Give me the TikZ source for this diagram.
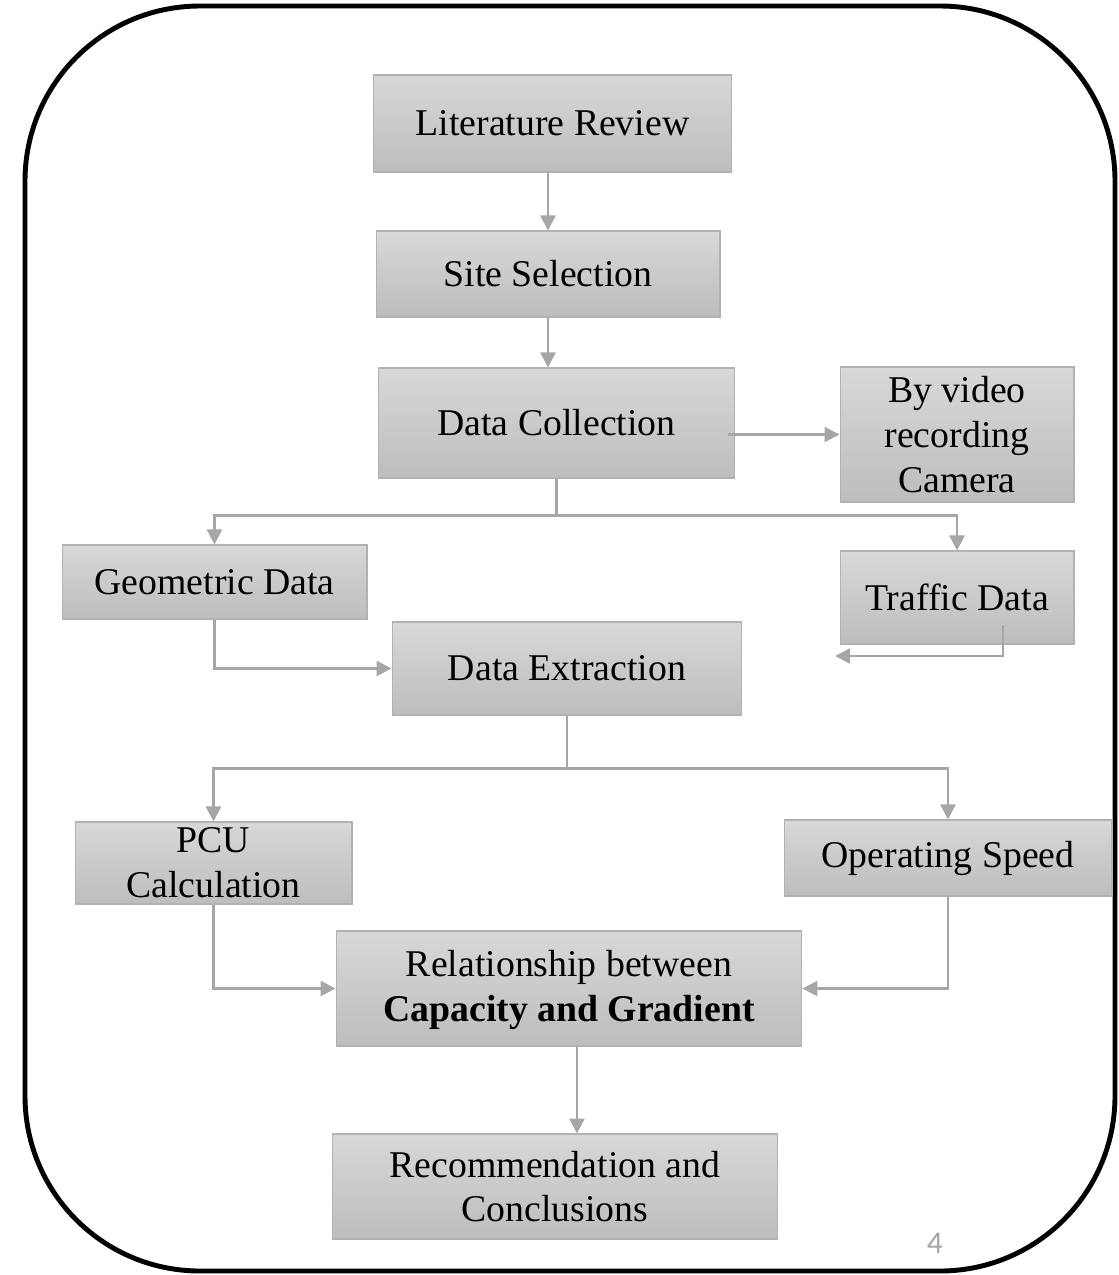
\documentclass[tikz,border=0pt]{standalone}
\usepackage{fontspec}
\setmainfont{Liberation Serif}
\newfontfamily\pagefont{Carlito}
\usetikzlibrary{arrows.meta}

\definecolor{linegray}{HTML}{A6A6A6}
\definecolor{boxtop}{HTML}{D8D8D8}
\definecolor{boxbottom}{HTML}{BDBDBD}
\definecolor{boxedge}{HTML}{B2B2B2}

\tikzstyle{arrow} = [line width=1.4pt,color=linegray,-{Triangle[length=0.3cm,width=0.3cm]}]
\tikzstyle{stepbox} = [
        rectangle,
        draw=boxedge,
        line width=0.6pt,
        top color=boxtop,
        bottom color=boxbottom,
        inner sep=0pt,
        align=center,
        font=\fontsize{21.5}{25.5}\selectfont,
        % text centered,
    ]

\begin{document}
\begin{tikzpicture}[x=0.02cm,y=-0.02cm]
            \useasboundingbox (0,0) rectangle (1119,1275);
            \draw [line width=2.8pt, rounded corners=3.5cm] (25,6) rectangle (1115,1271);
            \node [stepbox, minimum width=7.18cm, minimum height=1.94cm] (litreview) at (552.5,123.5) {Literature Review};
            \node [stepbox, minimum width=6.88cm, minimum height=1.72cm] (site) at (548,274) {Site Selection};
            \node [stepbox, minimum width=7.14cm, minimum height=2.2cm] (collection) at (556.5,423) {Data Collection};
            \node [stepbox, minimum width=4.68cm, minimum height=2.7cm] (video) at (957,434.5) {By video\\recording\\Camera};
            \node [stepbox, minimum width=4.68cm, minimum height=1.86cm] (traffic) at (957,597.5) {Traffic Data};
            \node [stepbox, minimum width=6.1cm, minimum height=1.48cm] (geometric) at (214.5,582) {Geometric Data};
            \node [stepbox, minimum width=7.0cm, minimum height=1.86cm] (extraction) at (567,668.5) {Data Extraction};
            \node [stepbox, minimum width=5.54cm, minimum height=1.64cm] (pcu) at (213.5,863) {PCU\\Calculation};
            \node [stepbox, minimum width=6.56cm, minimum height=1.52cm] (speed) at (948,858) {Operating Speed};
            \node [stepbox, minimum width=9.32cm, minimum height=2.3cm, text depth=0.12cm] (relation) at (569,988.5) {Relationship between\\\textbf{Capacity and Gradient}};
            \node [stepbox, minimum width=8.92cm, minimum height=2.1cm] (recommend) at (555,1186.5) {Recommendation and\\Conclusions};
            \node [text=linegray, font=\pagefont\fontsize{18}{20}\selectfont] (pagenum) at (935,1243) {4};
            \coordinate (trafficend) at (835,656);
            \draw [arrow] (litreview.south -| site.north) -- (site.north);
            \draw [arrow] (site.south) -- (site.south |- collection.north);
            \draw [arrow] ([xshift=-0.16cm]video.west -| collection.east) -- (video.west);
            \draw [arrow] (collection.south) -- ++(0,37) -| (geometric.north);
            \draw [arrow] (collection.south) -- ++(0,37) -| (traffic.north);
            \draw [arrow] ([xshift=0.92cm,yshift=-0.55cm]traffic.center) |- (trafficend);
            \draw [arrow] (geometric.south) |- (extraction.west);
            \draw [arrow] (extraction.south) -- ++(0,53) -| (pcu.north);
            \draw [arrow] (extraction.south) -- ++(0,53) -| (speed.north);
            \draw [arrow] (pcu.south) |- (relation.west);
            \draw [arrow] (speed.south) |- (relation.east);
            \draw [arrow] ([xshift=0.16cm]relation.south) -- ([xshift=0.16cm]relation.south |- recommend.north);
        \end{tikzpicture}
\end{document}
